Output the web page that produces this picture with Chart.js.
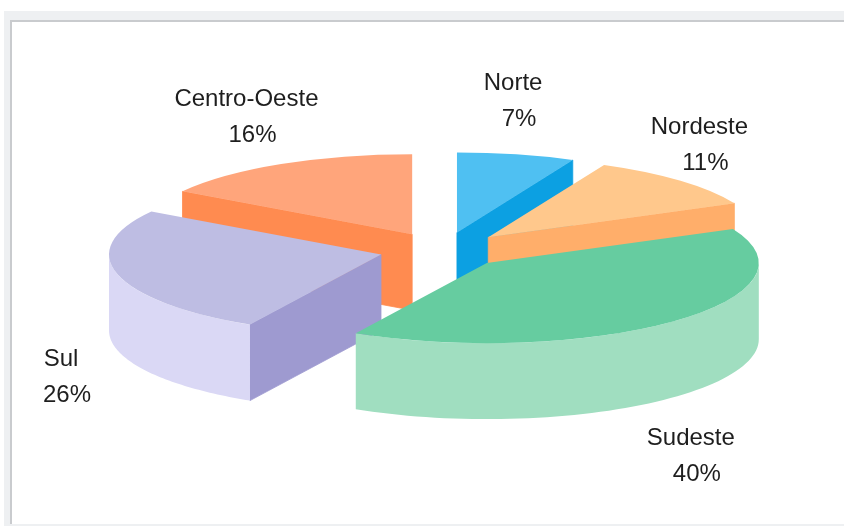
<!DOCTYPE html>
<html>
<head>
<meta charset="utf-8">
<script src="https://cdn.jsdelivr.net/npm/chart.js@4.4.1/dist/chart.umd.min.js"></script>
<style>
  html, body { margin: 0; padding: 0; background: #ffffff; width: 844px; height: 526px; overflow: hidden; }
  #frame { position: absolute; left: 4px; top: 11px; right: 0; bottom: 0; background: #eef0f2; }
  #inner { position: absolute; left: 10px; top: 20px; right: 0; bottom: 2px; background: #ffffff;
           border-top: 2px solid #c9cbce; border-left: 2px solid #c9cbce; }
  #c { position: absolute; left: 0; top: 0; }
</style>
</head>
<body>
<div id="frame"></div>
<div id="inner"></div>
<canvas id="c" width="844" height="526"></canvas>
<script>
// ---- data ----
const regions = ['Norte', 'Nordeste', 'Sudeste', 'Sul', 'Centro-Oeste'];
const shares = [7, 11, 40, 26, 16];
const shareLabels = ['7%', '11%', '40%', '26%', '16%'];

// ---- styles ----
const topColors  = ['#4fc0f2', '#ffc88c', '#66cca0', '#bebde3', '#ffa57b'];
const faceColors = ['#0ca0e2', '#ffae6a', '#4fb88a', '#9e9ad0', '#ff8b50'];
const wallColors = ['#2fb0ea', '#ffb878', '#a0dec0', '#dad8f5', '#ff9a65'];

const VIEW = {
  cx: 443, cy: 250,      // screen centre of the (unexploded) pie
  rx: 272, ry: 80,       // screen radii of the tilted top ellipse
  explodeX: 64, explodeY: 18,
  depth: 76,
  labelCx: 430, labelCy: 261, labelRX: 381, labelRY: 164, lineGap: 36
};

const pie3d = {
  id: 'pie3d',
  beforeDatasetsDraw(chart) {
    const ctx = chart.ctx;
    const arcs = chart.getDatasetMeta(0).data;
    const V = VIEW;
    const mid = a => (a.startAngle + a.endAngle) / 2;
    const order = arcs.map((a, i) => i).sort((i, j) => Math.sin(mid(arcs[i])) - Math.sin(mid(arcs[j])));
    order.forEach(i => {
      const a = arcs[i];
      const { x, y, startAngle: s, endAngle: e, outerRadius: r } =
        a.getProps(['x', 'y', 'startAngle', 'endAngle', 'outerRadius'], true);
      const sx = V.rx / r, sy = V.ry / r;
      const m = (s + e) / 2;
      const ox = V.cx + Math.cos(m) * V.explodeX;
      const oy = V.cy + Math.sin(m) * V.explodeY;
      const P = (ang, rad) => [ox + Math.cos(ang) * rad * sx, oy + Math.sin(ang) * rad * sy];
      const D = V.depth;
      const A = P(0, 0);
      ctx.save();
      // radial cut faces
      const face = ang => {
        const q = P(ang, r);
        ctx.beginPath();
        ctx.moveTo(A[0], A[1]); ctx.lineTo(q[0], q[1]);
        ctx.lineTo(q[0], q[1] + D); ctx.lineTo(A[0], A[1] + D);
        ctx.closePath();
        ctx.fillStyle = faceColors[i];
        ctx.strokeStyle = faceColors[i];
        ctx.lineWidth = 0.8;
        ctx.fill(); ctx.stroke();
      };
      if (Math.cos(s) < -1e-6) face(s);
      if (Math.cos(e) > 1e-6) face(e);
      // outer curved wall (front half only)
      for (const k of [0, 2]) {
        const a0 = Math.max(s, k * Math.PI), a1 = Math.min(e, (k + 1) * Math.PI);
        if (a1 > a0) {
          const n = 60;
          ctx.beginPath();
          for (let t = 0; t <= n; t++) {
            const q = P(a0 + (a1 - a0) * t / n, r);
            t === 0 ? ctx.moveTo(q[0], q[1]) : ctx.lineTo(q[0], q[1]);
          }
          for (let t = n; t >= 0; t--) {
            const q = P(a0 + (a1 - a0) * t / n, r);
            ctx.lineTo(q[0], q[1] + D);
          }
          ctx.closePath();
          ctx.fillStyle = wallColors[i];
          ctx.fill();
        }
      }
      // top face, drawn by the library's arc element
      ctx.translate(ox, oy);
      ctx.scale(sx, sy);
      ctx.translate(-x, -y);
      a.draw(ctx);
      ctx.restore();
    });
    return false;
  },
  afterDraw(chart) {
    const ctx = chart.ctx;
    const V = VIEW;
    const arcs = chart.getDatasetMeta(0).data;
    ctx.save();
    ctx.font = '24px "Liberation Sans", Arial, sans-serif';
    ctx.fillStyle = '#1e1e1e';
    ctx.textAlign = 'center';
    ctx.textBaseline = 'middle';
    arcs.forEach((a, i) => {
      const m = (a.startAngle + a.endAngle) / 2;
      const lx = V.labelCx + Math.cos(m) * V.labelRX;
      const ly = V.labelCy + Math.sin(m) * V.labelRY + (Math.sin(m) > 0 ? V.depth : 0);
      ctx.fillText(regions[i], lx, ly - V.lineGap / 2);
      ctx.fillText(shareLabels[i], lx + 6, ly + V.lineGap / 2);
    });
    ctx.restore();
  }
};

new Chart(document.getElementById('c'), {
  type: 'pie',
  data: {
    labels: regions,
    datasets: [{ data: shares, backgroundColor: topColors, borderWidth: 0 }]
  },
  options: {
    responsive: false,
    animation: false,
    events: [],
    radius: 200,
    layout: { padding: 0 },
    plugins: { legend: { display: false }, tooltip: { enabled: false } }
  },
  plugins: [pie3d]
});
</script>
</body>
</html>
